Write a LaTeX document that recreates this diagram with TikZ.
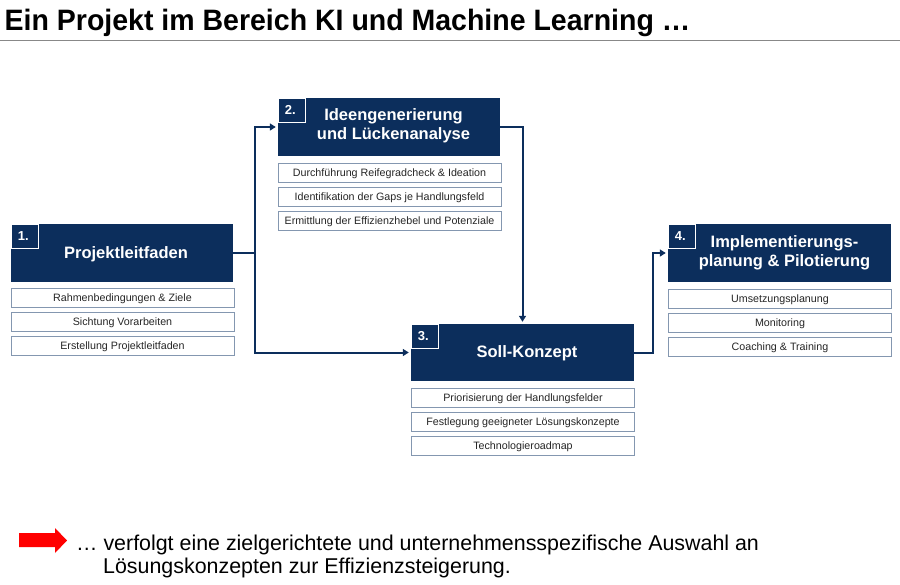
\documentclass[tikz,border=0pt]{standalone}
\usepackage{fontspec}
\setmainfont{Liberation Sans}
\newfontfamily\titlefont[FakeStretch=0.966]{Liberation Sans}
\usetikzlibrary{arrows.meta}
\definecolor{navy}{RGB}{12,46,92}
\definecolor{subline}{RGB}{132,151,176}
\definecolor{rulegray}{RGB}{136,136,136}
\begin{document}
\begin{tikzpicture}[x=1pt,y=-1pt,
  mainbox/.style={fill=navy, draw=none, minimum width=222pt, minimum height=58pt, inner sep=0pt},
  numbox/.style={fill=navy, draw=white, line width=1.2pt, minimum width=27pt, minimum height=24pt, inner sep=0pt, anchor=north west, text=white, font=\bfseries\fontsize{13}{14}\selectfont},
  boxtitle/.style={text=white, align=center, font=\bfseries\fontsize{16.5}{19.5}\selectfont, inner sep=0pt},
  subbox/.style={draw=subline, line width=1pt, fill=white, minimum width=223pt, minimum height=19pt, inner sep=0pt, text height=7.7pt, text depth=0.3pt, font=\fontsize{10.7}{12}\selectfont, text=black!85},
  conn/.style={draw=navy, line width=2pt, shorten >=2pt, -{Triangle[length=6pt,width=7pt]}}
]
\useasboundingbox (0,0) rectangle (900,584);

% title
\node[anchor=base west, inner sep=0pt, font=\titlefont\bfseries\fontsize{29.5}{35}\selectfont] (title) at (4.5,30) {Ein Projekt im Bereich KI und Machine Learning …};
\draw[rulegray, line width=1.5pt] (0,40.5) -- (900,40.5);

% box 1
\node[mainbox] (b1) at (122,253) {};
\node[numbox] (n1) at (b1.north west) {\hspace*{-3pt}1.};
\node[boxtitle] (t1) at ([xshift=4pt,yshift=-1pt]b1.center) {Projektleitfaden};
\node[subbox] (s11) at (122.5,297.5) {Rahmenbedingungen \& Ziele};
\node[subbox] (s12) at (122.5,321.5) {Sichtung Vorarbeiten};
\node[subbox] (s13) at (122.5,345.5) {Erstellung Projektleitfaden};

% box 2
\node[mainbox] (b2) at (389,127) {};
\node[numbox] (n2) at (b2.north west) {\hspace*{-3pt}2.};
\node[boxtitle] (t2) at ([xshift=4.5pt,yshift=1.5pt]b2.center) {Ideengenerierung\\und Lückenanalyse};
\node[subbox] (s21) at (389.5,172.5) {Durchführung Reifegradcheck \& Ideation};
\node[subbox] (s22) at (389.5,196.5) {Identifikation der Gaps je Handlungsfeld};
\node[subbox] (s23) at (389.5,220.5) {Ermittlung der Effizienzhebel und Potenziale};

% box 3
\node[mainbox, minimum width=223pt, minimum height=57pt] (b3) at (522.5,352.5) {};
\node[numbox] (n3) at (b3.north west) {\hspace*{-3pt}3.};
\node[boxtitle] (t3) at ([xshift=4.5pt,yshift=-1pt]b3.center) {Soll-Konzept};
\node[subbox] (s31) at (523,397.5) {Priorisierung der Handlungsfelder};
\node[subbox] (s32) at (523,421.5) {Festlegung geeigneter Lösungskonzepte};
\node[subbox] (s33) at (523,446) {Technologieroadmap};

% box 4
\node[mainbox, minimum width=223pt] (b4) at (779.5,253) {};
\node[numbox] (n4) at (b4.north west) {\hspace*{-3pt}4.};
\node[boxtitle] (t4) at ([xshift=5pt,yshift=0pt]b4.center) {Implementierungs-\\planung \& Pilotierung};
\node[subbox] (s41) at (780,298.5) {Umsetzungsplanung};
\node[subbox] (s42) at (780,322.5) {Monitoring};
\node[subbox] (s43) at (780,346.5) {Coaching \& Training};

% connectors
\coordinate (j1) at ([xshift=21.5pt]b1.east);
\draw[conn] (b1.east) -- (j1) |- (b2.west);
\draw[conn] (j1) |- (b3.west);
\draw[conn] (b2.east) -| (b3.north);
\coordinate (j3) at ([xshift=19pt]b3.east);
\draw[conn] (b3.east) -- (j3) |- (b4.west);

% conclusion
\fill[red] (19,533) -- (55,533) -- (55,528) -- (67,540.5) -- (55,553) -- (55,547) -- (19,547) -- cycle;
\node[anchor=base west, inner sep=0pt, font=\fontsize{21.4}{23}\selectfont] (c1) at (76,550) {… verfolgt eine zielgerichtete und unternehmensspezifische Auswahl an};
\node[anchor=base west, inner sep=0pt, font=\fontsize{21.4}{23}\selectfont] (c2) at (103,573) {Lösungskonzepten zur Effizienzsteigerung.};
\end{tikzpicture}
\end{document}
